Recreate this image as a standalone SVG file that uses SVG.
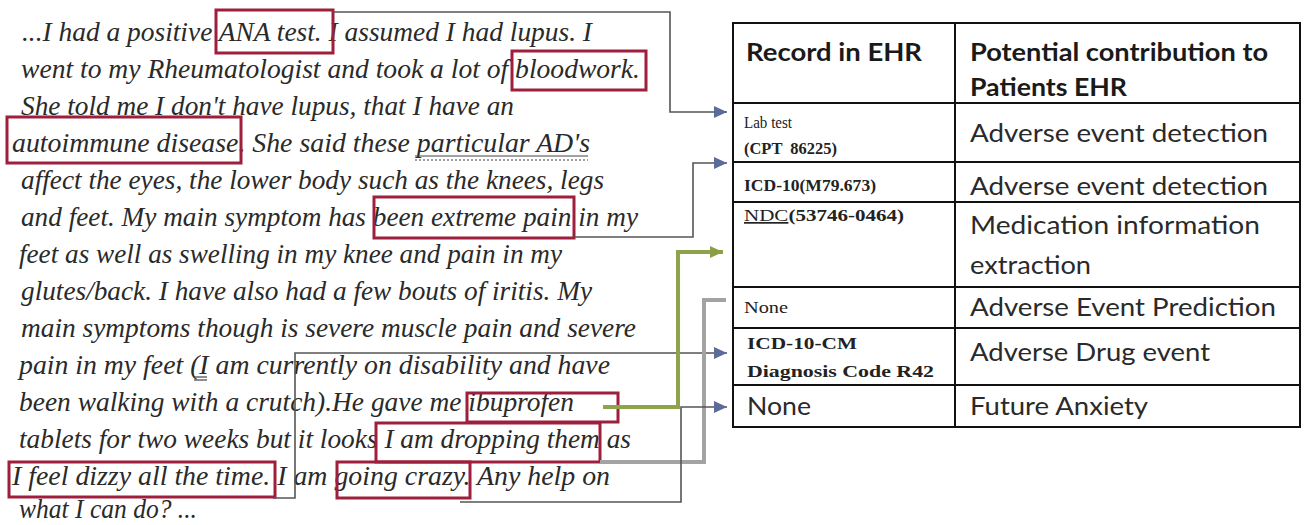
<svg xmlns="http://www.w3.org/2000/svg" width="1305" height="525" viewBox="0 0 1305 525">
<style>
.p{font-family:"Liberation Serif","Times New Roman",serif;font-style:italic;font-size:27px;fill:#2a2a2a}
.hl{fill:none;stroke:#9e1f3c;stroke-width:3}
.ul{stroke:#444;stroke-width:1.2}
.tb{fill:none;stroke:#111;stroke-width:2}
.th{font-family:Lato,"Liberation Sans",sans-serif;font-weight:bold;font-size:24px;fill:#1a1a1a}
.tc{font-family:Lato,"Liberation Sans",sans-serif;font-size:25px;fill:#2a2a2a}
.ts{font-family:"Liberation Serif","Times New Roman",serif;font-size:16px;fill:#222}
.tsb{font-family:"Liberation Serif","Times New Roman",serif;font-size:17px;font-weight:bold;fill:#222}
.cn{fill:none;stroke:#555;stroke-width:1.6}
.cg{fill:none;stroke:#8fa34a;stroke-width:4}
.cy{fill:none;stroke:#a3a3a3;stroke-width:4}
</style>
<defs>
<marker id="ab" markerUnits="userSpaceOnUse" markerWidth="14" markerHeight="14" refX="13" refY="6" orient="auto"><path d="M0,0 L13,6 L0,12 z" fill="#5b6b9a"/></marker>
<marker id="ag" markerUnits="userSpaceOnUse" markerWidth="14" markerHeight="14" refX="13" refY="6" orient="auto"><path d="M0,0 L13,6 L0,12 z" fill="#8a9f45"/></marker>
</defs>
<rect width="1305" height="525" fill="#fff"/>
<g id="narrative">
<text class="p" x="22" y="41" textLength="570" lengthAdjust="spacingAndGlyphs">...I had a positive ANA test. I assumed I had lupus. I</text>
<text class="p" x="21" y="78" textLength="619" lengthAdjust="spacingAndGlyphs">went to my Rheumatologist and took a lot of bloodwork.</text>
<text class="p" x="21" y="115" textLength="493" lengthAdjust="spacingAndGlyphs">She told me I don't have lupus, that I have an</text>
<text class="p" x="12" y="152" textLength="578" lengthAdjust="spacingAndGlyphs">autoimmune disease. She said these particular AD's</text>
<text class="p" x="21" y="189" textLength="583" lengthAdjust="spacingAndGlyphs">affect the eyes, the lower body such as the knees, legs</text>
<text class="p" x="21" y="226" textLength="617" lengthAdjust="spacingAndGlyphs">and feet. My main symptom has been extreme pain in my</text>
<text class="p" x="19" y="263" textLength="543" lengthAdjust="spacingAndGlyphs">feet as well as swelling in my knee and pain in my</text>
<text class="p" x="21" y="300" textLength="571" lengthAdjust="spacingAndGlyphs">glutes/back. I have also had a few bouts of iritis. My</text>
<text class="p" x="21" y="337" textLength="615" lengthAdjust="spacingAndGlyphs">main symptoms though is severe muscle pain and severe</text>
<text class="p" x="19" y="374" textLength="591" lengthAdjust="spacingAndGlyphs">pain in my feet (I am currently on disability and have</text>
<text class="p" x="19" y="411" textLength="555" lengthAdjust="spacingAndGlyphs">been walking with a crutch).He gave me ibuprofen</text>
<text class="p" x="19" y="448" textLength="612" lengthAdjust="spacingAndGlyphs">tablets for two weeks but it looks I am dropping them as</text>
<text class="p" x="12" y="485" textLength="598" lengthAdjust="spacingAndGlyphs">I feel dizzy all the time. I am going crazy. Any help on</text>
<text class="p" x="19" y="518" textLength="178" lengthAdjust="spacingAndGlyphs">what I can do? ...</text>
<line class="ul" x1="415" y1="156" x2="588" y2="156"/>
<line class="ul" x1="415" y1="160" x2="588" y2="160" stroke-dasharray="2 2"/>
<line class="ul" x1="194" y1="377" x2="207" y2="377"/>
<line class="ul" x1="194" y1="380" x2="207" y2="380"/>
</g>
<g id="hl-ana"><rect class="hl" x="216" y="10" width="117" height="43"/></g>
<g id="hl-bloodwork"><rect class="hl" x="512" y="51" width="134" height="39"/></g>
<g id="hl-autoimmune"><rect class="hl" x="7" y="117" width="234" height="46"/></g>
<g id="hl-pain"><rect class="hl" x="374" y="197" width="200" height="41"/></g>
<g id="hl-ibuprofen"><rect class="hl" x="467" y="393" width="151" height="29"/></g>
<g id="hl-dropping"><rect class="hl" x="376" y="423" width="224" height="39"/></g>
<g id="hl-dizzy"><rect class="hl" x="9" y="462" width="266" height="35"/></g>
<g id="hl-crazy"><rect class="hl" x="337" y="462" width="133" height="36"/></g>
<g id="connectors">
<path class="cn" d="M333,12 H670 V112 H727" marker-end="url(#ab)"/>
<path class="cn" d="M574,237 H693 V163 H727" marker-end="url(#ab)"/>
<path class="cn" d="M273,498 H295 V353 H727" marker-end="url(#ab)"/>
<path class="cy" d="M600,462 H704 V300 H726"/>
<path class="cn" d="M460,502 H681 V407 H727" marker-end="url(#ab)"/>
<path class="cg" d="M603,407 H678 V252 H723" marker-end="url(#ag)"/>
</g>
<g id="table">
<rect class="tb" x="733" y="23" width="567" height="404"/>
<line class="tb" x1="955" y1="23" x2="955" y2="427"/>
<line class="tb" x1="733" y1="103" x2="1300" y2="103"/>
<line class="tb" x1="733" y1="162" x2="1300" y2="162"/>
<line class="tb" x1="733" y1="202" x2="1300" y2="202"/>
<line class="tb" x1="733" y1="287" x2="1300" y2="287"/>
<line class="tb" x1="733" y1="328" x2="1300" y2="328"/>
<line class="tb" x1="733" y1="385" x2="1300" y2="385"/>
</g>
<g id="row-header">
<text class="th" x="746" y="61" textLength="176" lengthAdjust="spacingAndGlyphs">Record in EHR</text>
<text class="th" x="970" y="61" textLength="298" lengthAdjust="spacingAndGlyphs">Potential contribution to</text>
<text class="th" x="970" y="96" textLength="157" lengthAdjust="spacingAndGlyphs">Patients EHR</text>
</g>
<g id="row-lab">
<text class="ts" x="744" y="128" textLength="48" lengthAdjust="spacingAndGlyphs">Lab test</text>
<text class="tsb" x="744" y="154" textLength="93" lengthAdjust="spacingAndGlyphs" style="white-space:pre">(CPT  86225)</text>
<text class="tc" x="970" y="142" textLength="298" lengthAdjust="spacingAndGlyphs">Adverse event detection</text>
</g>
<g id="row-icd">
<text class="tsb" x="744" y="191" textLength="132" lengthAdjust="spacingAndGlyphs">ICD-10(M79.673)</text>
<text class="tc" x="970" y="195" textLength="298" lengthAdjust="spacingAndGlyphs">Adverse event detection</text>
</g>
<g id="row-ndc">
<text class="tsb" x="744" y="221" textLength="160" lengthAdjust="spacingAndGlyphs"><tspan font-weight="normal" text-decoration="underline">NDC</tspan>(53746-0464)</text>
<text class="tc" x="970" y="234" textLength="290" lengthAdjust="spacingAndGlyphs">Medication information</text>
<text class="tc" x="970" y="274" textLength="121" lengthAdjust="spacingAndGlyphs">extraction</text>
</g>
<g id="row-none1">
<text class="ts" x="744" y="313" textLength="44" lengthAdjust="spacingAndGlyphs">None</text>
<text class="tc" x="970" y="316" textLength="306" lengthAdjust="spacingAndGlyphs">Adverse Event Prediction</text>
</g>
<g id="row-icdcm">
<text class="tsb" x="747" y="349" textLength="110" lengthAdjust="spacingAndGlyphs">ICD-10-CM</text>
<text class="tsb" x="747" y="377" textLength="187" lengthAdjust="spacingAndGlyphs">Diagnosis Code R42</text>
<text class="tc" x="970" y="361" textLength="240" lengthAdjust="spacingAndGlyphs">Adverse Drug event</text>
</g>
<g id="row-none2">
<text class="tc" x="747" y="415" textLength="64" lengthAdjust="spacingAndGlyphs">None</text>
<text class="tc" x="970" y="415" textLength="178" lengthAdjust="spacingAndGlyphs">Future Anxiety</text>
</g>
</svg>
